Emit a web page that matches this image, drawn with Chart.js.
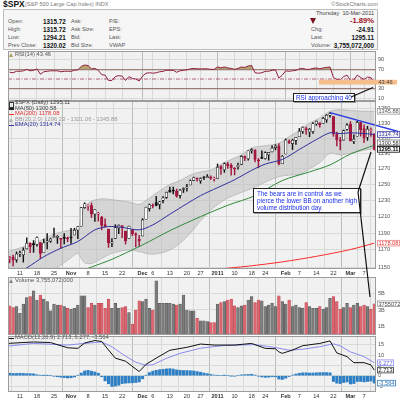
<!DOCTYPE html>
<html><head><meta charset="utf-8">
<script src="https://cdn.jsdelivr.net/npm/chart.js@4.4.1/dist/chart.umd.min.js"></script>
<style>
html,body{margin:0;padding:0;background:#fff;}
body{width:400px;height:400px;position:relative;overflow:hidden;font-family:"Liberation Sans",Arial,sans-serif;}
.t{position:absolute;white-space:pre;line-height:1;}
canvas{position:absolute;left:0;}
#hdr{position:absolute;left:3px;top:9px;width:375px;height:41px;background:#f6f6f6;border:1px solid #bdbdbd;box-sizing:border-box;}
.call{position:absolute;background:#fff;border:1px solid #222;color:#1a2ee6;font-size:6.3px;line-height:7.2px;padding:0 2px;box-shadow:1px 1px 0 #999;white-space:nowrap;}
#ov{position:absolute;left:0;top:0;width:400px;height:400px;pointer-events:none;}
</style></head><body>
<div id="hdr"></div>
<script>
// ---------- DATA ----------
const tickIdx = [3,8,13,18,23,28,33,39,42,47,52,56,61,66,71,75,81,85,90,95,100,104];
const tickLbl = ['11','18','25','Nov','8','15','22','Dec','6','13','20','27','2011','10','18','24','Feb','7','14','22','Mar','7'];
const monthLbl = ['Nov','Dec','2011','Feb','Mar'];

const open = [1159.81,1161.57,1158.36,1165.32,1164.28,1171.32,1177.82,1177.47,1176.83,1178.64,
1166.74,1179.56,1180.52,1184.74,1184.88,1183.84,1184.47,1183.87,1185.71,1187.86,
1193.79,1198.34,1221.20,1223.24,1223.59,1213.14,1213.04,1209.07,1200.44,1194.79,
1178.33,1183.75,1196.12,1198.07,1192.51,1183.70,1194.16,1189.08,1182.96,1186.60,
1206.81,1219.93,1223.87,1227.25,1225.02,1230.14,1233.85,1242.52,1241.84,1241.58,
1236.34,1243.63,1245.76,1249.43,1254.94,1257.53,1254.66,1259.10,1258.78,1259.44,
1256.76,1257.62,1272.95,1268.78,1276.29,1274.41,1270.84,1272.58,1275.65,1285.78,
1282.90,1293.22,1294.52,1280.85,1283.63,1283.29,1288.17,1291.97,1297.51,1299.63,
1276.50,1289.14,1305.91,1302.77,1307.01,1311.85,1318.76,1322.48,1318.13,1318.66,
1328.73,1330.43,1329.51,1334.37,1340.38,1338.91,1315.44,1307.09,1307.34,1321.61,
1328.64,1305.47,1312.37,1330.73,1322.72,1311.05,1319.92,1315.72];
const high = [1162.33,1163.87,1167.73,1168.68,1172.58,1184.38,1178.89,1181.20,1185.53,1178.64,
1182.94,1189.43,1183.93,1196.14,1187.11,1183.84,1189.53,1185.46,1195.81,1195.88,
1198.30,1221.25,1227.08,1224.57,1226.84,1218.75,1215.45,1210.50,1207.43,1194.79,
1183.56,1200.29,1199.97,1198.94,1192.51,1198.62,1194.16,1190.34,1187.40,1207.61,
1221.89,1225.57,1225.80,1235.05,1228.93,1234.71,1240.40,1246.73,1246.59,1244.25,
1243.75,1245.81,1250.20,1255.82,1259.39,1258.59,1258.43,1259.90,1262.60,1261.09,
1259.34,1276.17,1274.12,1277.63,1278.17,1276.83,1271.52,1277.25,1286.87,1286.70,
1293.24,1296.06,1294.60,1283.35,1293.26,1291.93,1291.26,1299.74,1301.29,1302.67,
1287.17,1308.86,1307.61,1308.60,1311.00,1322.85,1324.87,1324.54,1322.78,1330.79,
1332.96,1330.43,1337.61,1341.50,1344.07,1338.91,1317.91,1310.91,1320.61,1329.38,
1332.09,1314.19,1332.28,1331.08,1327.68,1325.74,1323.21,1315.72];
const low = [1154.85,1151.41,1155.58,1162.02,1155.71,1171.32,1166.71,1167.12,1174.55,1159.71,
1166.74,1171.17,1178.99,1184.74,1177.72,1171.70,1177.10,1179.70,1177.65,1187.86,
1183.56,1198.34,1220.29,1217.55,1208.94,1204.33,1204.49,1194.08,1197.15,1173.00,
1173.94,1183.75,1189.44,1184.58,1176.91,1183.70,1186.93,1173.64,1174.14,1186.60,
1206.81,1216.82,1220.67,1223.25,1219.50,1226.85,1232.58,1240.34,1238.17,1234.01,
1232.85,1239.87,1241.51,1249.43,1254.94,1254.05,1251.48,1256.22,1258.78,1256.32,
1254.19,1257.62,1262.66,1265.36,1270.43,1261.70,1262.18,1269.62,1275.65,1280.47,
1281.24,1290.16,1278.92,1271.26,1283.07,1282.47,1281.07,1291.97,1294.41,1275.10,
1276.50,1289.14,1302.62,1294.83,1301.67,1311.85,1316.03,1314.89,1311.74,1316.08,
1326.90,1324.61,1329.51,1331.00,1338.12,1312.33,1299.55,1294.26,1307.34,1320.55,
1306.14,1302.58,1312.37,1312.59,1303.99,1306.86,1312.27,1294.21];
const close = [1159.97,1158.06,1165.15,1165.32,1169.77,1178.10,1173.81,1176.19,1184.71,1165.90,
1178.17,1180.26,1183.08,1185.62,1185.64,1182.45,1183.78,1183.26,1184.38,1193.57,
1197.96,1221.06,1225.85,1223.25,1213.40,1218.71,1213.54,1199.21,1197.75,1178.34,
1178.59,1196.69,1199.73,1197.84,1180.73,1198.35,1189.40,1187.76,1180.55,1206.07,
1221.53,1224.71,1223.12,1223.75,1228.28,1233.00,1240.40,1240.46,1241.59,1235.23,
1242.87,1243.91,1247.08,1254.60,1258.84,1256.77,1257.54,1258.51,1259.78,1257.88,
1257.64,1271.87,1270.20,1276.56,1273.85,1271.50,1269.75,1274.48,1285.96,1283.76,
1293.24,1295.02,1281.92,1280.26,1283.35,1290.84,1291.18,1296.63,1299.54,1276.34,
1286.12,1307.59,1304.03,1307.10,1310.87,1319.05,1324.57,1320.88,1321.87,1329.15,
1332.32,1328.01,1336.32,1340.43,1343.01,1315.44,1307.40,1306.10,1319.88,1327.22,
1306.33,1308.44,1330.97,1321.15,1310.13,1321.82,1320.02,1295.11];
const closeBeforeFirst = 1160.75;

// volume, billions of shares
const volume = [3.5,3.3,3.4,2.6,3.7,4.5,4.6,5.3,4.2,4.8,4.3,4.0,2.9,3.7,3.6,3.6,3.4,3.2,3.1,3.2,
3.6,4.7,4.7,3.3,3.8,3.6,3.8,3.8,3.2,4.3,3.2,3.8,3.2,3.3,3.4,2.7,1.3,3.0,4.1,4.0,
4.3,3.2,3.0,6.5,3.8,3.8,3.8,3.8,3.7,3.6,3.7,4.8,3.0,2.9,2.9,2.0,1.7,1.7,1.6,1.5,
1.5,3.7,3.9,4.0,4.2,4.3,3.5,3.3,3.5,3.6,4.2,4.6,3.9,4.2,4.1,3.4,3.6,3.8,3.4,4.7,
4.0,3.7,4.2,3.4,3.6,3.3,3.2,3.9,3.4,3.2,3.2,3.4,3.1,3.3,4.4,4.6,4.0,3.1,3.3,3.8,
3.3,3.6,3.8,3.4,3.6,3.4,3.1,3.755072];

const rsi = [64,63,66,66,67,70,67,68,71,60, 65,66,67,67,67,65,66,66,66,68,
69,76,79,78,71,72,68,59,58,47, 47,55,57,56,47,55,51,50,46,56,
62,63,62,63,65,66,68,68,68,64, 67,68,69,71,72,71,71,71,71,70,
70,75,73,75,73,72,70,72,75,74, 77,78,63,62,63,66,66,68,69,52,
58,67,66,67,68,71,72,70,70,72, 73,71,73,74,75,53,49,48,55,58,
47,48,58,53,49,54,53,43.46];

const ma50X = [20,24,30,39,47,56,64,72,80,88,94,100,107];
const ma50Y = [1144,1150,1159,1176,1193,1210,1224,1236,1255,1266,1275,1289,1300.58];
const ma200X = [55,61,70,80,90,100,107];
const ma200Y = [1145,1147.5,1151,1156,1162.5,1170.5,1178.08];
const emaX = [-0.5,5,10,15,20,25,29,33,38,42,47,52,56,61,66,71,75,80,85,90,94,97,100,104,107];
const emaY = [1138,1149,1162,1172,1180,1194,1198,1197,1194,1200,1213,1226,1236,1246,1256,1268,1276,1282,1295,1308,1317,1316,1317,1316,1314.74];
const bbX = [-0.5,5,10,13,17,20,21,22,24,27,30,35,38,40,42,44,47,50,53,56,59,61,64,68,71,75,79,82,85,88,91,94,97,100,104,107];
const bbUpper = [1168,1175,1183,1189,1193,1196,1210,1222,1229,1232,1231,1228,1225,1230,1236,1242,1250,1255,1262,1266,1268,1273,1280,1288,1297,1300,1303,1312,1320,1330,1337,1346,1348,1347,1346,1345.88];
const bbLower = [1110,1128,1140,1147,1158,1166,1160,1155,1154,1160,1166,1170,1168,1166,1165,1166,1170,1178,1190,1205,1218,1225,1233,1240,1245,1253,1260,1262,1263,1270,1278,1290,1288,1290,1294,1296.23];
const bbMiddleLast = 1321.06;
const trendX = [94,115];
const trendY = [1344.07,1317.6];

const macdX = [-0.5,7,12,17,20,22,25,27,29,31,34,38,40,43,47,52,56,60,66,71,75,78,79,80,83,86,91,94,96,99,101,104,106,107];
const macdY = [15.6,16.3,16,13.5,13.2,15.8,17,16.5,12.4,8.5,7,2.0,5.5,8.5,12.3,13.7,15.3,14.8,14.8,15.6,13.2,13.0,11.5,10.8,12.4,14.5,15.6,16.8,11,9.2,6.3,6.3,5.2,2.713];
const sigX = [-0.5,7,17,22,27,30,33,37,40,42,46,50,56,63,72,78,82,86,91,95,97,100,104,107];
const sigY = [14.3,15.6,14.8,15.6,16.3,14,10.5,6.5,5,5.3,8.4,10.8,13.3,14.6,15,13.6,12.3,12.8,14,15.4,14.4,11.5,9.2,6.277];
const hist = [1.2,1.1,1.1,1.2,1.1,1.0,1.0,0.9, 0.5,0.2,0.1,0.1,0.0,
-0.3,-0.5,-0.7,-0.9,-1.1,-1.0,-0.6, 0.2,1.3,2.3,2.6,2.2,1.8,1.2,
-0.5,-2.5,-3.9,-5.2,-5.0,-4.6,-3.8,-3.6,-3.5,-3.4,-3.3,-3.0,
-1.5,0.2,1.5,2.2,2.6,2.9,3.1,3.3,3.4,3.2,2.8,2.6,2.5,2.5,2.4,2.3,2.0,1.7,
1.3,1.0,0.6,0.3,
0.2,0.0,0.1,0.0,-0.1,-0.2,0.0,0.4,0.5,0.6,0.7,0.3,-0.2,-0.6,-0.8,-0.7,-0.5,-0.5,
-1.6,-1.8,-1.2,-0.4,
0.3,0.8,1.2,1.4,1.4,1.3,1.3,1.4,1.5,1.5,1.5,1.4,
-2.8,-3.6,-3.8,-3.3,-3.0,-4.0,-3.8,-2.8,-2.8,-3.0,-2.8,-2.6,-3.564];

const priceTicks = [1150,1160,1170,1180,1190,1200,1210,1220,1230,1240,1250,1260,1270,1280,1290,1300,1310,1320,1330,1340,1350,1360];
const rsiTicks = [10,30,50,70,90];
const volTicks = [1,2,3,4,5,6];
const macdTicks = [-5,0,5,10,15];

// ---------- HELPERS ----------
const N = close.length;
const FONT = '"Liberation Sans", Arial, sans-serif';
Chart.defaults.font.family = FONT;
Chart.defaults.animation = false;
const pts = (xs, ys) => xs.map((x, i) => ({x, y: ys[i]}));
const idx = close.map((_, i) => i);
const isDown = close.map((c, i) => c < (i ? close[i-1] : closeBeforeFirst));
const candleCol = isDown.map(d => d ? '#a3173d' : '#111111');
const bodyFill = close.map((c, i) => c < open[i] ? candleCol[i] : '#ffffff');

function T(x, cy, s, size, color, bold, right){
  const d = document.createElement('div'); d.className = 't'; d.textContent = s;
  d.style.fontSize = size + 'px'; d.style.color = color; if (bold) d.style.fontWeight = 'bold';
  d.style.top = (cy - size * 0.55) + 'px';
  if (right) d.style.right = (400 - x) + 'px'; else d.style.left = x + 'px';
  document.body.appendChild(d); return d;
}
function mk(top, h){
  const c = document.createElement('canvas'); c.width = 400; c.height = h;
  c.style.top = top + 'px'; c.style.width = '400px'; c.style.height = h + 'px';
  document.body.appendChild(c); return c.getContext('2d');
}
function xScale(show){
  return {
    type: 'linear', min: -0.5, max: 107.5, offset: false,
    afterBuildTicks: ax => { ax.ticks = tickIdx.map(v => ({value: v})); },
    afterFit: ax => { ax.height = show ? 8 : 0; ax.paddingLeft = 0; ax.paddingRight = 0; },
    ticks: { display: show, autoSkip: false, maxRotation: 0, padding: 1.5, color: '#333',
      font: ctx => ({size: 5.6, family: FONT, weight: monthLbl.includes(tickLbl[tickIdx.indexOf(ctx.tick && ctx.tick.value)]) ? 'bold' : 'normal'}),
      callback: v => tickLbl[tickIdx.indexOf(v)] },
    grid: { drawTicks: false, lineWidth: 1,
      color: ctx => monthLbl.includes(tickLbl[tickIdx.indexOf(ctx.tick && ctx.tick.value)]) ? '#b7bdb7' : '#d6dbd6' },
    border: { display: false }
  };
}
function yScale(type, min, max, ticks, fmt, gridColor, gridWidth){
  return {
    type, position: 'right', min, max,
    afterBuildTicks: ax => { ax.ticks = ticks.map(v => ({value: v})); },
    afterFit: ax => { ax.width = 24; ax.paddingTop = 0; ax.paddingBottom = 0; },
    ticks: { padding: 2, color: '#555', font: {size: 5.6, family: FONT}, callback: fmt },
    grid: { drawTicks: false, color: gridColor || '#d6dbd6', lineWidth: gridWidth || 1 },
    border: { display: false }
  };
}
const panel = { id: 'panel',
  beforeDraw(c){ const a = c.chartArea, x = c.ctx; x.save(); x.fillStyle = '#f1f1f1'; x.fillRect(a.left, a.top, a.width, a.height); x.restore(); },
  afterDraw(c){ const a = c.chartArea, x = c.ctx; x.save(); x.strokeStyle = '#9c9c9c'; x.lineWidth = 1; x.strokeRect(a.left + 0.5, a.top + 0.5, a.width - 1, a.height - 1); x.restore(); } };
function boxes(items){
  return { id: 'boxes', afterDraw(chart){
    const ctx = chart.ctx, ys = chart.scales.y;
    const arr = items.map(it => Object.assign({}, it, {py: ys.getPixelForValue(it.v)}));
    arr.sort((a, b) => a.py - b.py);
    for (let k = arr.length - 2; k >= 0; k--) if (arr[k+1].py - arr[k].py < 6.6) arr[k].py = arr[k+1].py - 6.6;
    ctx.save(); ctx.textBaseline = 'middle';
    arr.forEach(it => {
      const h = 6.4;
      if (it.band) { ctx.fillStyle = it.band; ctx.fillRect(it.band0, it.py - 2.4, 397 - it.band0, 4.8); }
      ctx.font = (it.bold ? 'bold ' : '') + '5.6px ' + FONT;
      const w = ctx.measureText(it.txt).width + 3, x = 377;
      if (!it.band) { ctx.fillStyle = it.bg || '#fff'; ctx.fillRect(x, it.py - h/2, w, h); }
      if (it.bc) { ctx.strokeStyle = it.bc; ctx.lineWidth = 0.8; ctx.strokeRect(x + 0.4, it.py - h/2 + 0.4, w - 0.8, h - 0.8); }
      ctx.fillStyle = it.tc; ctx.fillText(it.txt, x + 1.5, it.py + 0.3);
    });
    ctx.restore();
  }};
}
const baseOpts = (scales) => ({ responsive: false, animation: false, events: [],
  layout: { padding: { left: 8, right: 0, top: 0, bottom: 0 } },
  plugins: { legend: { display: false }, tooltip: { enabled: false } }, scales });

// ---------- HEADER ----------
T(3, 5, '$SPX', 8.5, '#111', true);
T(25, 5.4, '(S&P 500 Large Cap Index) INDX', 5.6, '#777');
T(378, 5, '\u00a9StockCharts.com', 5.6, '#777', false, true);
T(374, 14.3, 'Thursday  10-Mar-2011', 5.6, '#444', false, true);
const rowsY = [22.3, 30.3, 38.3, 46.3];
const L = N - 1;
const hdrC1 = ['Open:', 'High:', 'Low:', 'Prev Close:'];
const hdrV1 = [open[L], high[L], low[L], close[L-1]].map(v => v.toFixed(2));
const hdrC2 = ['Ask:', 'Ask Size:', 'Bid:', 'Bid Size:'];
const hdrC3 = ['P/E:', 'EPS:', 'Last:', 'VWAP'];
rowsY.forEach((y, r) => {
  T(8, y, hdrC1[r], 5.6, '#555'); T(43, y, hdrV1[r], 6.3, '#111', true);
  T(71, y, hdrC2[r], 5.6, '#555'); T(109, y, hdrC3[r], 5.6, '#555');
});
const chg = close[L] - close[L-1];
const tri = document.createElement('div');
tri.style.cssText = 'position:absolute;left:310px;top:18px;width:0;height:0;border-left:3.5px solid transparent;border-right:3.5px solid transparent;border-top:6px solid #7a0f1f;';
document.body.appendChild(tri);
T(374, 21.5, (chg / close[L-1] * 100).toFixed(2) + '%', 7.6, '#9b1020', true, true);
T(311, rowsY[1], 'Chg:', 5.6, '#555'); T(374, rowsY[1], chg.toFixed(2), 6.3, '#111', true, true);
T(311, rowsY[2], 'Last:', 5.6, '#555'); T(374, rowsY[2], close[L].toFixed(2), 6.3, '#111', true, true);
T(311, rowsY[3], 'Volume:', 5.6, '#555');
T(374, rowsY[3], Math.round(volume[L] * 1e9).toLocaleString('en-US'), 6.3, '#111', true, true);

// ---------- RSI ----------
const rsiDash = { id: 'rsiDash', beforeDatasetsDraw(c){
  const a = c.chartArea, y = c.scales.y.getPixelForValue(50), x = c.ctx;
  x.save(); x.strokeStyle = '#a3405c'; x.lineWidth = 0.8; x.setLineDash([4, 1.5, 1, 1.5]);
  x.beginPath(); x.moveTo(a.left, y); x.lineTo(a.right, y); x.stroke(); x.restore(); } };
new Chart(mk(51, 50), {
  type: 'line',
  data: { datasets: [{ data: idx.map(i => ({x: i, y: rsi[i]})), borderColor: '#93203f', borderWidth: 1, pointRadius: 0,
    fill: { target: { value: 70 }, above: '#b4a56c', below: 'rgba(0,0,0,0)' } }] },
  options: baseOpts({ x: xScale(false),
    y: yScale('linear', 4.5, 108, rsiTicks, v => v === 50 ? '' : String(v),
      ctx => { const v = ctx.tick && ctx.tick.value; return v === 70 || v === 30 ? '#9a7b78' : (v === 50 ? 'rgba(0,0,0,0)' : '#d6dbd6'); },
      ctx => { const v = ctx.tick && ctx.tick.value; return v === 70 || v === 30 ? 1.3 : 1; }) }),
  plugins: [panel, rsiDash, boxes([{ v: rsi[L], txt: rsi[L].toFixed(2), tc: '#444', band: '#f5be8c', band0: 319 }])]
});

// ---------- PRICE ----------
new Chart(mk(101, 176), {
  type: 'bar',
  data: { datasets: [
    { type: 'line', data: pts(trendX, trendY), borderColor: '#2638e0', borderWidth: 1.4, pointRadius: 0, clip: false, order: 0 },
    { type: 'line', data: pts(emaX, emaY), borderColor: '#2f2f9c', borderWidth: 1, pointRadius: 0, tension: 0.3, order: 1 },
    { type: 'line', data: pts(ma50X, ma50Y), borderColor: '#2f8a3a', borderWidth: 1, pointRadius: 0, tension: 0.3, order: 1 },
    { type: 'line', data: pts(ma200X, ma200Y), borderColor: '#ff2a2a', borderWidth: 1, pointRadius: 0, tension: 0.3, order: 1 },
    { type: 'bar', data: idx.map(i => ({x: i, y: [open[i], close[i]]})), backgroundColor: bodyFill, borderColor: candleCol,
      borderWidth: 0.6, borderSkipped: false, barThickness: 2.5, grouped: false, minBarLength: 1, order: 3 },
    { type: 'bar', data: idx.map(i => ({x: i, y: [low[i], high[i]]})), backgroundColor: candleCol,
      barThickness: 0.8, grouped: false, order: 4 },
    { type: 'line', data: pts(bbX, bbUpper), borderColor: '#b3b3b3', borderWidth: 0.8, pointRadius: 0, tension: 0.3,
      backgroundColor: 'rgba(190,190,190,0.55)', fill: '+1', order: 9 },
    { type: 'line', data: pts(bbX, bbLower), borderColor: '#b3b3b3', borderWidth: 0.8, pointRadius: 0, tension: 0.3, fill: false, order: 10 }
  ] },
  options: baseOpts({ x: xScale(true), y: yScale('logarithmic', 1147.7, 1360, priceTicks, v => String(v)) }),
  plugins: [panel, boxes([
    { v: bbUpper[bbUpper.length-1], txt: bbUpper[bbUpper.length-1].toFixed(2), tc: '#555', bc: '#999' },
    { v: emaY[emaY.length-1], txt: emaY[emaY.length-1].toFixed(2), tc: '#2f2f9c', bc: '#2f2f9c' },
    { v: ma50Y[ma50Y.length-1], txt: ma50Y[ma50Y.length-1].toFixed(2), tc: '#333', bc: '#777' },
    { v: close[L], txt: close[L].toFixed(2), tc: '#000', bc: '#000', bold: true },
    { v: ma200Y[ma200Y.length-1], txt: ma200Y[ma200Y.length-1].toFixed(2), tc: '#e03030', bc: '#f08080' }
  ])]
});

// ---------- VOLUME ----------
new Chart(mk(277, 58), {
  type: 'bar',
  data: { datasets: [{ data: idx.map(i => ({x: i, y: volume[i]})),
    backgroundColor: isDown.map(d => d ? '#dc6670' : '#7c7c7c'), borderColor: isDown.map(d => d ? '#b8404c' : '#505050'),
    borderWidth: 0.5, borderSkipped: false, barThickness: 2.7, grouped: false }] },
  options: baseOpts({ x: xScale(false), y: yScale('linear', 0, 6.96, volTicks, v => v + 'B') }),
  plugins: [panel, boxes([{ v: volume[L], txt: String(Math.round(volume[L] * 1e6)), tc: '#444', bc: '#999' }])]
});

// ---------- MACD ----------
new Chart(mk(336, 64), {
  type: 'bar',
  data: { datasets: [
    { type: 'line', data: pts(macdX, macdY), borderColor: '#111', borderWidth: 1, pointRadius: 0, order: 0 },
    { type: 'line', data: pts(sigX, sigY), borderColor: '#8a8af0', borderWidth: 1, pointRadius: 0, order: 1 },
    { type: 'bar', data: idx.map(i => ({x: i, y: hist[i]})), backgroundColor: '#2f7fc4', barThickness: 2.4, grouped: false, order: 2 }
  ] },
  options: baseOpts({ x: xScale(true), y: yScale('linear', -7.87, 19.18, macdTicks, v => String(v)) }),
  plugins: [panel, boxes([
    { v: sigY[sigY.length-1], txt: sigY[sigY.length-1].toFixed(3), tc: '#6a6ae0', bc: '#8a8af0' },
    { v: macdY[macdY.length-1], txt: macdY[macdY.length-1].toFixed(3), tc: '#111', bc: '#333' },
    { v: hist[L], txt: hist[L].toFixed(3), tc: '#2f6fb4', bc: '#2f7fc4' }
  ])]
});

// ---------- PANEL LEGENDS ----------
function icon(x, cy, color){ const d = document.createElement('div');
  d.style.cssText = `position:absolute;left:${x}px;top:${cy-2}px;width:0;height:0;border-left:2.5px solid transparent;border-right:2.5px solid transparent;border-bottom:4px solid ${color};`;
  document.body.appendChild(d); }
function dash(x, cy, color){ const d = document.createElement('div');
  d.style.cssText = `position:absolute;left:${x}px;top:${cy-0.6}px;width:5px;height:1.3px;background:${color};`;
  document.body.appendChild(d); }
icon(9, 55, '#a89a5a'); T(15, 55, 'RSI(14) ' + rsi[L].toFixed(2), 5.8, '#555');
const cand = document.createElement('div');
cand.style.cssText = 'position:absolute;left:9px;top:101.5px;width:3px;height:4px;border:0.8px solid #333;';
document.body.appendChild(cand);
T(15, 103.5, '$SPX (Daily) ' + close[L].toFixed(2), 5.8, '#444');
dash(9, 109, '#222'); T(15, 109, 'MA(50) ' + ma50Y[ma50Y.length-1].toFixed(2), 5.8, '#444');
dash(9, 114.5, '#ff3030'); T(15, 114.5, 'MA(200) ' + ma200Y[ma200Y.length-1].toFixed(2), 5.8, '#e03030');
icon(9, 120, '#b0b0b0'); T(15, 120, 'BB(20,2.0) ' + bbLower[bbLower.length-1].toFixed(2) + ' - ' + bbMiddleLast.toFixed(2) + ' - ' + bbUpper[bbUpper.length-1].toFixed(2), 5.8, '#999');
dash(9, 125.5, '#2f2f9c'); T(15, 125.5, 'EMA(20) ' + emaY[emaY.length-1].toFixed(2), 5.8, '#2f2f9c');
icon(9, 281, '#888'); T(15, 281, 'Volume ' + Math.round(volume[L] * 1e9).toLocaleString('en-US'), 5.8, '#555');
dash(9, 338.5, '#111'); T(15, 338.5, 'MACD(12,26,9) ' + macdY[macdY.length-1].toFixed(3) + ', ' + sigY[sigY.length-1].toFixed(3) + ', ' + hist[L].toFixed(3), 5.8, '#555');

// ---------- ANNOTATIONS ----------
const c1 = document.createElement('div'); c1.className = 'call';
c1.style.left = '293px'; c1.style.top = '93px'; c1.textContent = 'RSI approaching 40';
document.body.appendChild(c1);
const c2 = document.createElement('div'); c2.className = 'call';
c2.style.left = '253px'; c2.style.top = '188px'; c2.style.padding = '0.5px 3px';
c2.innerHTML = 'The bears are in control as we<br>pierce the lower BB on another high<br>volume distribution day.';
document.body.appendChild(c2);
document.body.insertAdjacentHTML('beforeend',
 '<svg id="ov" viewBox="0 0 400 400"><g stroke="#111" stroke-width="1.2" fill="none">' +
 '<line x1="351" y1="97" x2="373" y2="87.5"/>' +
 '<line x1="358" y1="192" x2="371" y2="152"/>' +
 '<line x1="358" y1="192" x2="370" y2="297"/></g></svg>');
</script>
</body></html>
